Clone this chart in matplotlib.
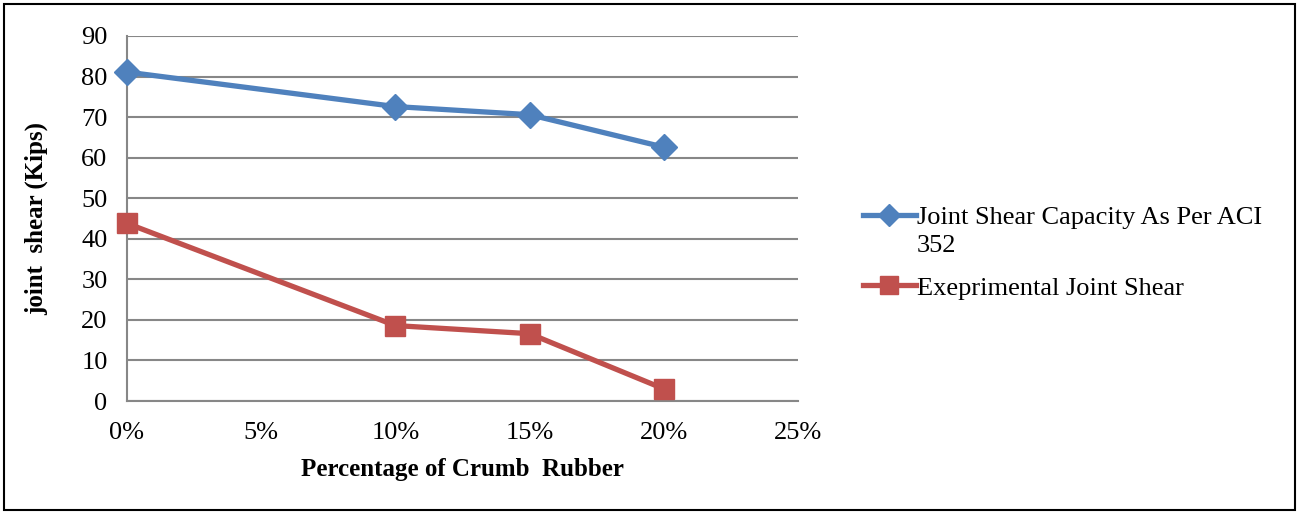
import matplotlib
matplotlib.use("Agg")
import matplotlib.pyplot as plt
from matplotlib.patches import Rectangle
from matplotlib.ticker import FuncFormatter

crumb_rubber_pct = [0.00, 0.10, 0.15, 0.20]
aci_capacity = [81.1, 72.6, 70.6, 62.6]
experimental = [43.8, 18.6, 16.6, 3.0]
series_labels = ["Joint Shear Capacity As Per ACI", "Exeprimental Joint Shear"]
label_wrap = "352"
x_ticks = [0.00, 0.05, 0.10, 0.15, 0.20, 0.25]
y_ticks = list(range(0, 100, 10))

plt.rcParams['font.family'] = ['Liberation Serif', 'DejaVu Serif']

fig = plt.figure(figsize=(12.98, 5.13), dpi=100)
ax = fig.add_axes([127/1298, 1 - 401/513, (798 - 127)/1298, (401 - 36)/513])

blue = '#4F81BD'
red = '#C0504D'
ax.plot(crumb_rubber_pct, aci_capacity, color=blue, lw=3.8, marker='D', ms=13,
        label=series_labels[0], zorder=3, clip_on=False)
ax.plot(crumb_rubber_pct, experimental, color=red, lw=3.8, marker='s', ms=15,
        label=series_labels[1], zorder=3, clip_on=False)

ax.set_xlim(0, 0.25)
ax.set_ylim(0, 90)
ax.set_xticks(x_ticks)
ax.set_yticks(y_ticks)
ax.xaxis.set_major_formatter(FuncFormatter(lambda v, p: f"{v*100:.0f}%"))
ax.grid(axis='y', color='#878787', lw=1.5)
ax.set_axisbelow(True)
for s in ['top', 'right']:
    ax.spines[s].set_visible(False)
for s in ['left', 'bottom']:
    ax.spines[s].set_color('#878787')
    ax.spines[s].set_linewidth(1.5)
ax.tick_params(axis='both', length=0, labelsize=19, colors='black')
ax.tick_params(axis='x', pad=15)
ax.tick_params(axis='y', pad=14)

ax.set_xlabel("Percentage of Crumb  Rubber", fontsize=18, fontweight='bold', labelpad=10)
ax.set_ylabel("joint  shear (Kips)", fontsize=18, fontweight='bold', labelpad=24)

leg = fig.legend(loc='upper left', bbox_to_anchor=(839/1298, 1 - 182/513), frameon=False,
                 fontsize=19, handlelength=2.0, handletextpad=0.05, labelspacing=1.78,
                 markerscale=0.85)

fig.canvas.draw()
bb = leg.get_texts()[0].get_window_extent().transformed(fig.transFigure.inverted())
fig.text(bb.x0, bb.y0 - 6/513, label_wrap, fontsize=19, ha='left', va='top')

fig.patches.append(Rectangle((4/1298, 3/513), 1291/1298, 506/513, transform=fig.transFigure,
                             fill=False, edgecolor='black', lw=1.5))

fig.savefig("out.png", dpi=100)
